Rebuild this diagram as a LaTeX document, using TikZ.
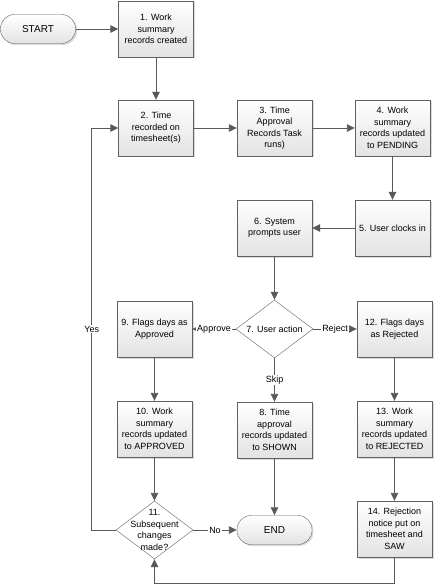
\documentclass[tikz,border=0pt]{standalone}
\usepackage{fontspec}
\setmainfont{Liberation Sans}
\usetikzlibrary{shapes.geometric,arrows.meta,shadows}

\begin{document}
\begin{tikzpicture}[x=1pt, y=-1pt, font=\fontsize{9}{11.5}\selectfont,
     every node/.style={align=center},
     task/.style={rectangle, draw=black!62, top color=white, bottom color=black!11, minimum width=75pt, minimum height=56pt, inner sep=1pt,
       drop shadow={shadow xshift=1.5pt, shadow yshift=-1.5pt, fill=black!14, opacity=1}},
     terminal/.style={rectangle, rounded corners=14pt, draw=black!62, top color=white, bottom color=black!11, minimum width=75pt, minimum height=29pt,
       font=\fontsize{10}{12}\selectfont, drop shadow={shadow xshift=1.5pt, shadow yshift=-1.5pt, fill=black!14, opacity=1}},
     decision/.style={diamond, draw=black!62, fill=white, minimum width=77pt, minimum height=58pt, inner sep=0pt},
     flow/.style={draw=black!65, line width=0.9pt, -{Triangle[length=8pt,width=7.5pt]}},
     choice/.style={fill=white, inner sep=1pt}]

   \useasboundingbox (0,0) rectangle (436,585);

   \node[terminal] (start) at (38,29) {START};
   \node[task] (w1) at (156,29) {1. Work\\summary\\records created};
   \node[task] (w2) at (156,128) {2. Time\\recorded on\\timesheet(s)};
   \node[task] (w3) at (274.5,128) {3. Time\\Approval\\Records Task\\runs)};
   \node[task] (w4) at (392.5,128) {4. Work\\summary\\records updated\\to PENDING};
   \node[task] (w5) at (392.5,228) {5. User clocks in};
   \node[task] (w6) at (274.5,228) {6. System\\prompts user};
   \node[decision, label={center:7. User action}] (w7) at (274.5,329) {};
   \node[task] (w9) at (154.5,329) {9. Flags days as\\Approved};
   \node[task] (w12) at (394.5,329) {12. Flags days\\as Rejected};
   \node[task] (w10) at (154.5,429) {10. Work\\summary\\records updated\\to APPROVED};
   \node[task] (w8) at (274.5,430) {8. Time\\approval\\records updated\\to SHOWN};
   \node[task] (w13) at (394.5,429) {13. Work\\summary\\records updated\\to REJECTED};
   \node[decision, label={center:11.\\Subsequent\\changes\\made?}] (w11) at (154.5,530) {};
   \node[terminal] (end) at (274.5,530) {END};
   \node[task] (w14) at (394.5,529) {14. Rejection\\notice put on\\timesheet and\\SAW};

   \draw[flow] (start) -- (w1);
   \draw[flow] (w1) -- (w2);
   \draw[flow] (w2) -- (w3);
   \draw[flow] (w3) -- (w4);
   \draw[flow] (w4) -- (w5);
   \draw[flow] (w5) -- (w6);
   \draw[flow] (w6) -- (w7);
   \draw[flow] (w7) -- node[choice]{Approve} (w9);
   \draw[flow] (w7) -- node[choice]{Reject} (w12);
   \draw[flow] (w7) -- node[choice]{Skip} (w8);
   \draw[flow] (w9) -- (w10);
   \draw[flow] (w10) -- (w11);
   \draw[flow] (w8) -- (end);
   \draw[flow] (w12) -- (w13);
   \draw[flow] (w13) -- (w14);
   \draw[flow] (w11) -- node[choice]{No} (end);
   \draw[flow] (w11.west) -- ++(-24,0) |- node[choice, pos=.25]{Yes} (w2.west);
   \draw[flow] (w14.south) -- ++(0,26) -| (w11.south);
\end{tikzpicture}
\end{document}
